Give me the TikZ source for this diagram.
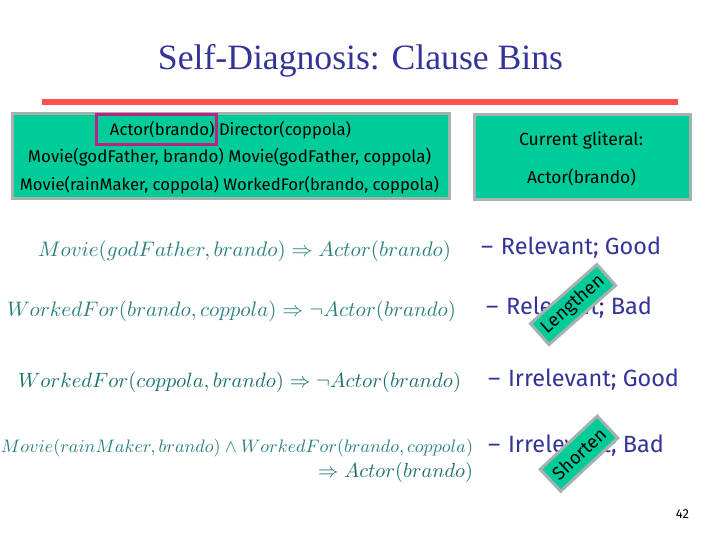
\documentclass[tikz,border=0pt]{standalone}
\usepackage{fontspec}
\usepackage{graphicx}
\setmainfont{Liberation Serif}
\newfontfamily\boxfont{Fira Sans}
\definecolor{boxfill}{HTML}{00CC99}
\definecolor{boxedge}{HTML}{A6B2AF}
\definecolor{barred}{HTML}{FF5050}
\definecolor{pickbox}{HTML}{BB2288}
\definecolor{bluetext}{HTML}{333399}
\definecolor{mathteal}{HTML}{2A7F7F}
\definecolor{mathdark}{HTML}{1C6F6F}
\newcommand{\fitw}[2]{\resizebox{#1pt}{!}{#2}}
\newcommand{\fitm}[2]{\resizebox{#1pt}{!}{$#2$}}
\tikzset{
  x=1pt,y=-1pt,
  panel/.style={draw=boxedge,fill=boxfill,line width=3pt,inner sep=0pt,outer sep=0pt},
  boxtxt/.style={inner sep=0pt,outer sep=0pt,text=black,font=\boxfont},
  bullet/.style={inner sep=0pt,outer sep=0pt,anchor=west,text=bluetext,font=\boxfont},
  formula/.style={inner sep=0pt,outer sep=0pt,anchor=west,text=mathteal},
  tag/.style={panel,rotate=#1}
}
\begin{document}
\begin{tikzpicture}
\useasboundingbox (0,0) rectangle (720,540);
\node[inner sep=0pt,text=bluetext] (title) at (360.5,61) {\fitw{405}{\fontsize{35}{40}\selectfont Self-Diagnosis: Clause Bins}};
\node[fill=barred,minimum width=636pt,minimum height=6pt,inner sep=0pt] (bar) at (360,102) {};

\node[panel,minimum width=437pt,minimum height=85pt] (clauses) at (231,156) {};
\node[panel,minimum width=216pt,minimum height=85pt] (current) at (582.5,157) {};
\node[boxtxt] (c1) at (230.5,130) {\fitw{241}{Actor(brando) Director(coppola)}};
\node[boxtxt] (c2) at (229.5,157) {\fitw{403}{Movie(godFather, brando) Movie(godFather, coppola)}};
\node[boxtxt] (c3) at (229.5,185) {\fitw{419}{Movie(rainMaker, coppola) WorkedFor(brando, coppola)}};
\node[draw=pickbox,line width=3pt,minimum width=120pt,minimum height=30pt,inner sep=0pt] (pick) at (156.5,129.5) {};
\node[boxtxt] (g1) at (581,141) {\fitw{124}{Current gliteral:}};
\node[boxtxt] (g2) at (581.5,177) {\fitw{109}{Actor(brando)}};

\node[formula] (f1) at (38,251) {\fitm{413}{Movie(godFather,brando)\Rightarrow Actor(brando)}};
\node[formula] (f2) at (7,311) {\fitm{449}{WorkedFor(brando,coppola)\Rightarrow \neg Actor(brando)}};
\node[formula,text=mathdark] (f3) at (18,382) {\fitm{443}{WorkedFor(coppola,brando)\Rightarrow \neg Actor(brando)}};
\node[formula] (f4) at (1,448) {\fitm{472}{Movie(rainMaker,brando)\wedge WorkedFor(brando,coppola)}};
\node[formula,text=mathdark] (f5) at (318,472) {\fitm{155}{\Rightarrow Actor(brando)}};

\node[bullet] (b1) at (481,248) {\fitw{180}{–\,\,Relevant; Good}};
\node[bullet] (b2) at (486,308) {\fitw{166}{–\,\,Relevant; Bad}};
\node[bullet] (b3) at (488,380) {\fitw{191}{–\,\,Irrelevant; Good}};
\node[bullet] (b4) at (488,446) {\fitw{176}{–\,\,Irrelevant; Bad}};

\node[tag=41.6,minimum width=89pt,minimum height=28pt] (len) at (573,304.5) {\fitw{78}{\boxfont Lengthen}};
\node[tag=43,minimum width=78pt,minimum height=30pt] (sho) at (579,453.7) {\fitw{66}{\boxfont Shorten}};
\node[inner sep=0pt] (page) at (682.5,514) {\fontsize{13}{15}\selectfont\boxfont 42};
\end{tikzpicture}
\end{document}
